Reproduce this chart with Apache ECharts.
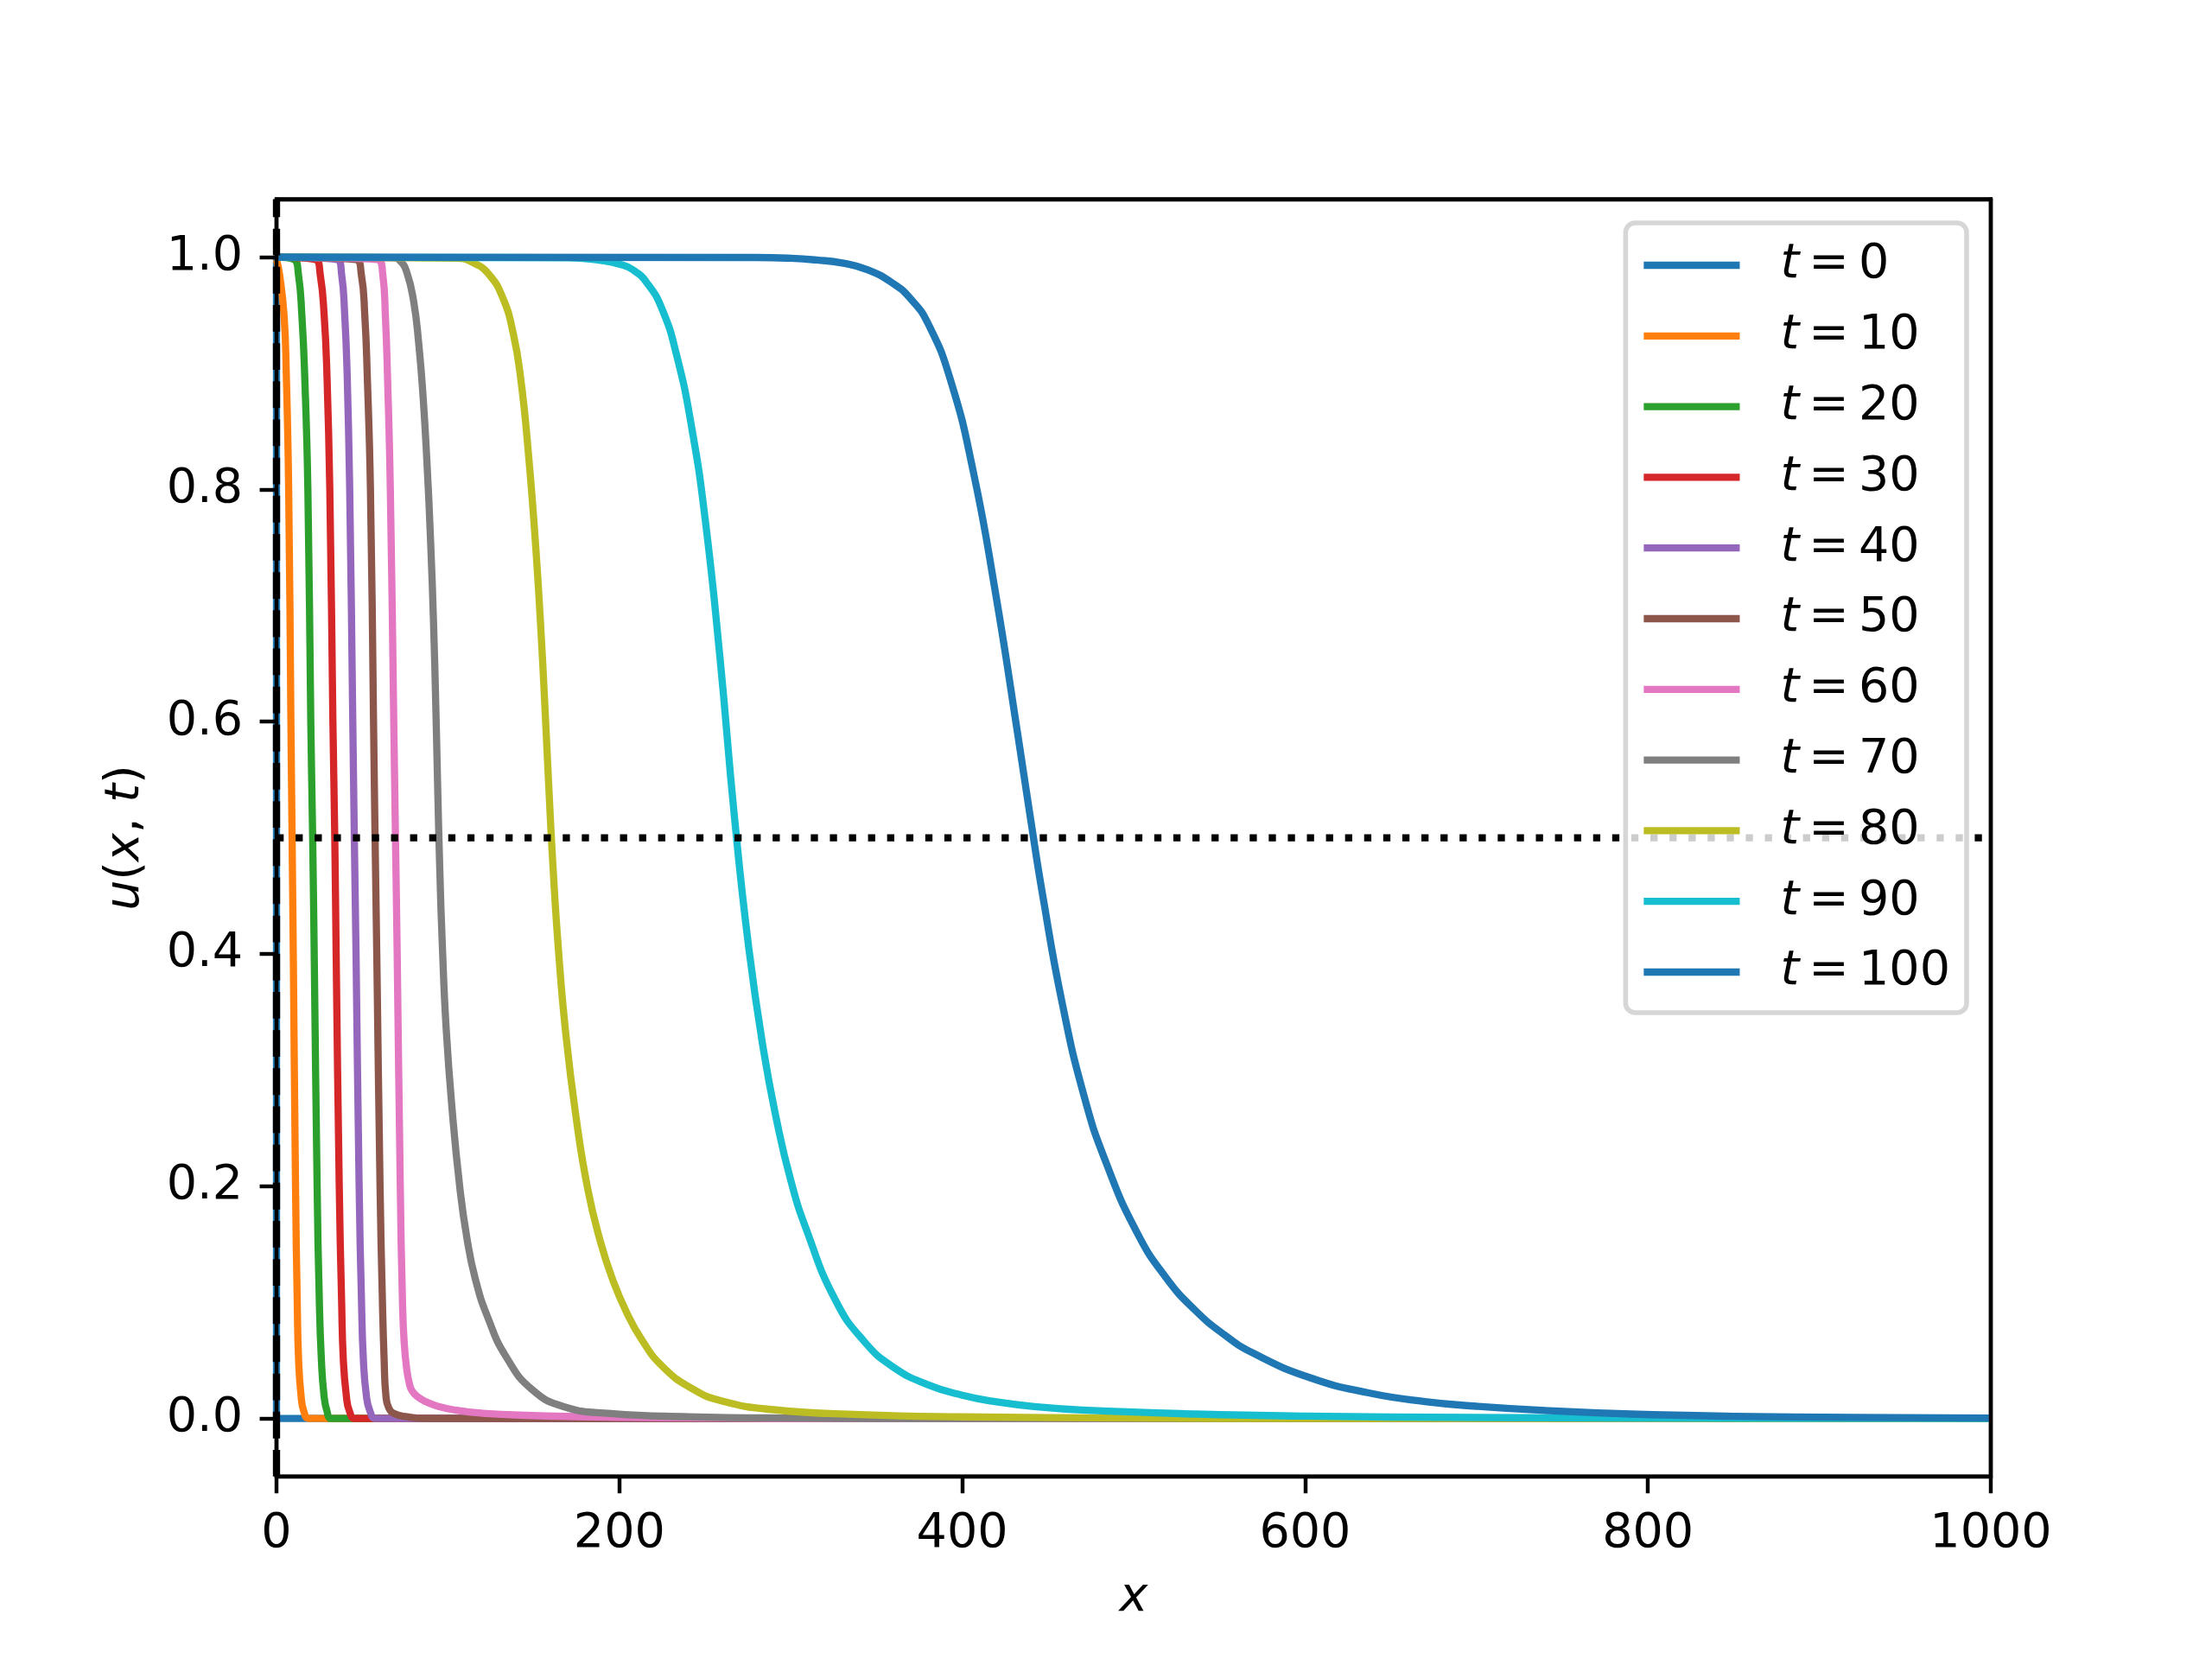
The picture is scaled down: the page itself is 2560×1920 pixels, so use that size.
<!DOCTYPE html>
<html>
<head>
<meta charset="utf-8">
<script src="https://cdn.jsdelivr.net/npm/echarts@6/dist/echarts.min.js"></script>
<style>
html,body{margin:0;padding:0;background:#fff;}
#chart{width:2560px;height:1920px;}
</style>
</head>
<body>
<div id="chart"></div>
<script>
// ---- data ----
const times = [0, 10, 20, 30, 40, 50, 60, 70, 80, 90, 100];
const xTicks = [0, 200, 400, 600, 800, 1000];
const yTicks = [0.0, 0.2, 0.4, 0.6, 0.8, 1.0];
const halfLevel = 0.5;   // dotted horizontal reference line
const originX = 0;       // dashed vertical reference line

const t0 = [[0,1],[0,0],[1000,0]];
const t10 = [[0,0.998],[1.8,0.985],[4.4,0.95],[5.7,0.9],[7.1,0.8],[8.4,0.6],[9.1,0.5],[9.8,0.4],[11.1,0.2],[12.1,0.1],[12.9,0.05],[14.3,0.02],[16,0.006],[19,0],[1000,0]];
const t20 = [[0,1],[10.2,0.998],[12.8,0.985],[14.8,0.95],[16.4,0.9],[18.3,0.8],[20,0.6],[21.1,0.5],[22,0.4],[23.7,0.2],[25,0.1],[26.2,0.05],[27.7,0.02],[29.5,0.006],[32,0],[1000,0]];
const t30 = [[0,1],[22.7,0.998],[25.5,0.985],[27.8,0.95],[29.4,0.9],[31.1,0.8],[32.9,0.6],[34.0,0.5],[34.8,0.4],[36.6,0.2],[38.0,0.1],[39.0,0.05],[40.7,0.02],[42.6,0.006],[46,0],[1000,0]];
const t40 = [[0,1],[35.3,0.998],[38.0,0.985],[39.8,0.95],[41.2,0.9],[42.7,0.8],[44.5,0.6],[45.4,0.5],[46.4,0.4],[48.2,0.2],[49.6,0.1],[50.7,0.05],[52.4,0.02],[54.6,0.006],[58,0],[1000,0]];
const t50 = [[0,1],[46.2,0.998],[49.5,0.985],[51.5,0.95],[52.9,0.9],[54.8,0.8],[56.6,0.6],[57.5,0.5],[58.5,0.4],[60.4,0.2],[61.8,0.1],[62.8,0.05],[63.8,0.02],[65.5,0.009],[69,0.004],[76,0.0015],[88,0],[1000,0]];
const t60 = [[0,1],[58.8,0.998],[62.0,0.985],[63.5,0.95],[64.7,0.9],[66.4,0.8],[68.4,0.6],[69.4,0.5],[70.4,0.4],[72.2,0.2],[73.5,0.1],[74.5,0.065],[76,0.042],[77.5,0.03],[79,0.024],[82,0.019],[87,0.0145],[94,0.0105],[105,0.007],[120,0.0045],[145,0.0027],[200,0.001],[260,0.0003],[320,0],[1000,0]];
const t70 = [[0,1],[68,0.9995],[72,0.997],[76,0.987],[80,0.962],[83,0.925],[85.5,0.88],[87.7,0.825],[89.9,0.755],[91.6,0.685],[92.9,0.615],[94,0.545],[95.2,0.475],[96.8,0.405],[99,0.335],[102.5,0.265],[107,0.198],[111,0.156],[116,0.12],[123.5,0.086],[134,0.053],[149,0.025],[168,0.01],[195,0.0042],[240,0.0015],[300,0.0004],[400,0],[1000,0]];
const t80 = [[0,1],[105,0.999],[115,0.995],[124,0.985],[132,0.965],[138,0.935],[142.5,0.895],[147,0.83],[151,0.755],[154,0.685],[156.5,0.615],[158.8,0.545],[161.3,0.475],[164.5,0.403],[168.7,0.332],[174.5,0.262],[181.5,0.198],[189,0.152],[196,0.12],[204,0.092],[213,0.068],[225,0.045],[242,0.026],[260,0.015],[290,0.0075],[340,0.0033],[400,0.0014],[500,0.0004],[600,0],[1000,0]];
const t90 = [[0,1],[170,0.9995],[190,0.997],[200,0.994],[208,0.989],[216,0.978],[225,0.955],[233.5,0.915],[242,0.855],[250,0.775],[258.7,0.655],[267,0.52],[275.5,0.405],[284,0.318],[292,0.255],[300,0.205],[309,0.163],[326,0.102],[343,0.066],[360,0.044],[380,0.029],[400,0.02],[420,0.0143],[445,0.0098],[470,0.0072],[536,0.0038],[600,0.002],[700,0.0008],[850,0.0002],[1000,0]];
const t100 = [[0,1],[280,0.9997],[300,0.999],[315,0.9975],[330,0.995],[345,0.989],[360,0.977],[370,0.964],[380,0.943],[393,0.895],[406.5,0.815],[419.4,0.711],[432.3,0.59],[440,0.515],[447,0.45],[458,0.36],[471,0.278],[484,0.22],[502,0.16],[519,0.121],[536,0.093],[553,0.072],[570,0.056],[603,0.035],[637,0.022],[670,0.0145],[700,0.0105],[740,0.0068],[790,0.0038],[850,0.0019],[920,0.0009],[1000,0.0003]];

const curves = [t0, t10, t20, t30, t40, t50, t60, t70, t80, t90, t100];
const colors = ['#1f77b4','#ff7f0e','#2ca02c','#d62728','#9467bd','#8c564b','#e377c2','#7f7f7f','#bcbd22','#17becf','#1f77b4'];

// ---- styling (matplotlib defaults at 400 dpi) ----
const S = 400 / 72;
const FS = 10 * S;
const LW = 1.5 * S;
const AW = 0.8 * S;
const TL = 3.5 * S;
const F = 'DejaVu Sans';
const names = times.map(t => 't = ' + t);

const series = curves.map((d, i) => ({
  name: names[i],
  type: 'line',
  data: d,
  symbol: 'none',
  showSymbol: false,
  smooth: i === 0 ? false : 0.5,
  lineStyle: { width: LW, color: colors[i], join: 'round', cap: 'butt' },
  itemStyle: { color: colors[i] },
  emphasis: { disabled: true },
  silent: true,
  z: 2
}));

series.push({
  type: 'line',
  data: [[xTicks[0], halfLevel], [xTicks[xTicks.length - 1], halfLevel]],
  symbol: 'none',
  lineStyle: { width: LW, color: '#000', type: [LW, 1.65 * LW] },
  silent: true,
  z: 3
});
series.push({
  type: 'line',
  data: [[originX, -0.05], [originX, 1.05]],
  symbol: 'none',
  lineStyle: { width: LW, color: '#000', type: [3.7 * LW, 1.6 * LW] },
  silent: true,
  z: 3
});

const chart = echarts.init(document.getElementById('chart'), null, { renderer: 'canvas' });
chart.setOption({
  animation: false,
  backgroundColor: '#fff',
  grid: {
    left: 320, right: 256, top: 230.4, bottom: 211.2,
    show: true, borderColor: '#000', borderWidth: AW, backgroundColor: 'transparent',
    containLabel: false, outerBoundsMode: 'none'
  },
  legend: {
    data: names,
    orient: 'vertical',
    right: 284, top: 258,
    align: 'left',
    icon: 'rect',
    itemWidth: 2 * FS,
    itemHeight: LW,
    itemGap: 81.8 - 56,
    padding: [21, 19, 19, 21],
    backgroundColor: 'rgba(255,255,255,0.8)',
    borderColor: 'rgba(204,204,204,0.8)',
    borderWidth: S,
    borderRadius: 0.2 * FS,
    selectedMode: false,
    formatter: n => '{i|t}\u2009=\u2009' + n.slice(4),
    textStyle: {
      fontFamily: F, fontSize: FS, color: '#000', lineHeight: 56,
      padding: [0, 0, 0, 42],
      rich: { i: { fontFamily: F, fontSize: FS, fontStyle: 'italic', color: '#000', lineHeight: 56 } }
    }
  },
  xAxis: [{
    type: 'value', min: 0, max: 1000, interval: 200,
    position: 'bottom',
    axisLine: { show: true, onZero: false, lineStyle: { color: '#000', width: AW } },
    axisTick: { show: true, length: TL, lineStyle: { color: '#000', width: AW } },
    axisLabel: { fontFamily: F, fontSize: FS, color: '#000', margin: 39, formatter: v => String(v) },
    splitLine: { show: false },
    name: 'x', nameLocation: 'middle', nameGap: 113,
    nameTextStyle: { fontFamily: F, fontSize: FS, color: '#000', fontStyle: 'italic' },
    z: 5
  }, {
    type: 'value', min: 0, max: 1000, position: 'top',
    axisLine: { show: true, onZero: false, lineStyle: { color: '#000', width: AW } },
    axisTick: { show: false }, axisLabel: { show: false }, splitLine: { show: false },
    z: 5
  }],
  yAxis: [{
    type: 'value', min: -0.05, max: 1.05,
    position: 'left',
    axisLine: { show: true, onZero: false, lineStyle: { color: '#000', width: AW } },
    axisTick: { show: true, length: TL, lineStyle: { color: '#000', width: AW }, customValues: yTicks },
    axisLabel: { fontFamily: F, fontSize: FS, color: '#000', margin: 39, customValues: yTicks, formatter: v => Number(v).toFixed(1) },
    splitLine: { show: false },
    name: '{i|u}({i|x}, {i|t})', nameLocation: 'middle', nameGap: 146,
    nameTextStyle: { fontFamily: F, fontSize: FS, color: '#000',
      rich: { i: { fontFamily: F, fontSize: FS, fontStyle: 'italic', color: '#000' } } },
    z: 5
  }, {
    type: 'value', min: -0.05, max: 1.05, position: 'right',
    axisLine: { show: true, onZero: false, lineStyle: { color: '#000', width: AW } },
    axisTick: { show: false }, axisLabel: { show: false }, splitLine: { show: false },
    z: 5
  }],
  series: series
});
</script>
</body>
</html>
